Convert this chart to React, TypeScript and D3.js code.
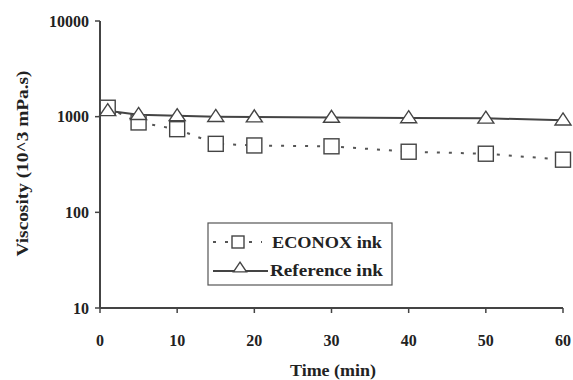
import * as d3 from "d3";

const times = [1, 5, 10, 15, 20, 30, 40, 50, 60];
const econox = [1240, 870, 740, 520, 500, 490, 430, 410, 355];
const reference = [1150, 1050, 1020, 1000, 990, 980, 970, 960, 920];
const xTicks = [0, 10, 20, 30, 40, 50, 60];
const yTicks = [10, 100, 1000, 10000];

export default function App() {
  const width = 573;
  const height = 380;
  const margin = { top: 21, right: 10, bottom: 72, left: 100 };
  const x = d3.scaleLinear().domain([0, 60]).range([margin.left, 563]);
  const y = d3
    .scaleLog()
    .domain([10, 10000])
    .range([height - margin.bottom, margin.top]);
  const line = d3
    .line<number>()
    .x((_, i) => x(times[i]))
    .y((v) => y(v));
  const font = "'Liberation Serif', 'Times New Roman', serif";
  const axisColor = "#444";
  const tri = (cx: number, cy: number, s: number) =>
    `M${cx},${cy - s * 0.9} L${cx + s},${cy + s * 0.6} L${cx - s},${cy + s * 0.6} Z`;

  return (
    <svg
      width={width}
      height={height}
      style={{ position: "absolute", left: 0, top: 0, background: "#fff" }}
      fontFamily={font}
      fontWeight="bold"
    >
      {/* axes */}
      <line x1={x(0)} y1={y(10000)} x2={x(0)} y2={y(10)} stroke={axisColor} strokeWidth={2} />
      <line x1={x(0)} y1={y(10)} x2={x(60)} y2={y(10)} stroke={axisColor} strokeWidth={2} />
      {yTicks.map((t) => (
        <g key={`y${t}`}>
          <line x1={x(0) - 5} x2={x(0)} y1={y(t)} y2={y(t)} stroke={axisColor} strokeWidth={1.5} />
          <text x={x(0) - 11} y={y(t) + 5.5} textAnchor="end" fontSize={16} fill="#222">
            {t}
          </text>
        </g>
      ))}
      {xTicks.map((t) => (
        <g key={`x${t}`}>
          <line x1={x(t)} x2={x(t)} y1={y(10)} y2={y(10) + 5} stroke={axisColor} strokeWidth={1.5} />
          <text x={x(t)} y={346} textAnchor="middle" fontSize={16} fill="#222">
            {t}
          </text>
        </g>
      ))}
      <text x={333} y={376} textAnchor="middle" fontSize={16} fill="#222" textLength={86} lengthAdjust="spacingAndGlyphs">
        Time (min)
      </text>
      <text
        transform={`translate(28,${(70 + 257) / 2}) rotate(-90)`}
        textAnchor="middle"
        fontSize={16}
        fill="#222"
        textLength={186}
        lengthAdjust="spacingAndGlyphs"
      >
        Viscosity (10^3 mPa.s)
      </text>

      {/* ECONOX series */}
      <path d={line(econox) ?? ""} fill="none" stroke="#555" strokeWidth={2} strokeDasharray="3 9" />
      {/* Reference series */}
      <path d={line(reference) ?? ""} fill="none" stroke="#444" strokeWidth={2} />
      {econox.map((v, i) => (
        <rect
          key={`s${i}`}
          x={x(times[i]) - 7.5}
          y={y(v) - 7.5}
          width={15}
          height={15}
          fill="#fff"
          stroke="#444"
          strokeWidth={1.4}
        />
      ))}
      {reference.map((v, i) => (
        <path key={`t${i}`} d={tri(x(times[i]), y(v), 8)} fill="#fff" stroke="#444" strokeWidth={1.4} />
      ))}

      {/* legend */}
      <rect x={208} y={223} width={184} height={62} fill="#fff" stroke="#555" strokeWidth={1.2} />
      <line x1={213} x2={262} y1={242} y2={242} stroke="#555" strokeWidth={2} strokeDasharray="3 9" />
      <rect x={232} y={236} width={12} height={12} fill="#fff" stroke="#444" strokeWidth={1.4} />
      <text x={272} y={248} fontSize={16} fill="#222" textLength={110} lengthAdjust="spacingAndGlyphs">
        ECONOX ink
      </text>
      <line x1={213} x2={268} y1={271} y2={271} stroke="#444" strokeWidth={2} />
      <path d={tri(240, 268, 6.5)} fill="#fff" stroke="#444" strokeWidth={1.4} />
      <text x={270} y={276} fontSize={16} fill="#222" textLength={113} lengthAdjust="spacingAndGlyphs">
        Reference ink
      </text>
    </svg>
  );
}
